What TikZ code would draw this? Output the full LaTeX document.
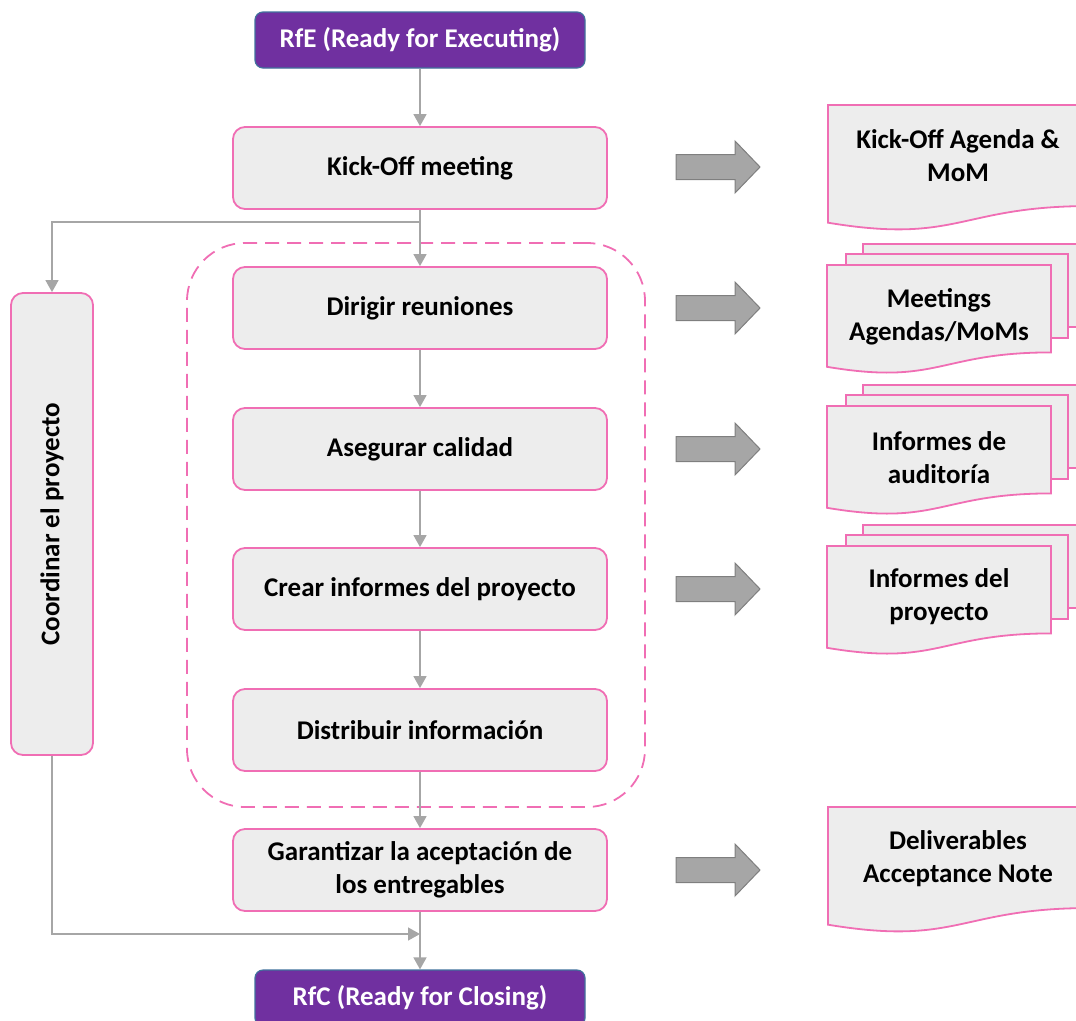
\documentclass[tikz,border=0pt]{standalone}
\usepackage{fontspec}
\setmainfont{Carlito}
\usetikzlibrary{arrows.meta}
\definecolor{pinkb}{HTML}{F06EB4}
\definecolor{boxfill}{HTML}{EDEDED}
\definecolor{purp}{HTML}{7030A0}
\definecolor{purpb}{HTML}{41719C}
\definecolor{connc}{HTML}{A6A6A6}
\definecolor{barrowf}{HTML}{A6A6A6}
\definecolor{barrowb}{HTML}{7F7F7F}
\newcommand{\bfont}{\fontsize{27}{33}\selectfont\bfseries}
% single document shape: x, y (top-left), w, h
\newcommand{\mydoc}[4]{%
  \path[docsheet] (#1,#2) -- ({#1+#3},#2) -- ({#1+#3},{#2+0.802*#4})
    .. controls ({#1+0.5*#3},{#2+0.802*#4}) and ({#1+0.5*#3},{#2+1.107*#4}) .. (#1,{#2+0.934*#4}) -- cycle;}
% multi document: x, y of front sheet top-left
\newcommand{\mymulti}[2]{%
  \path[docsheet] ({#1+36},{#2-21}) rectangle ({#1+262},{#2+62});
  \path[docsheet] ({#1+19},{#2-11}) rectangle ({#1+241},{#2+73});
  \mydoc{#1}{#2}{224}{109}}
\begin{document}
\begin{tikzpicture}[x=1pt,y=-1pt,
  proc/.style={draw=pinkb, line width=1.8pt, fill=boxfill, rounded corners=12pt,
    minimum width=374pt, minimum height=82pt, align=center, font=\bfont, inner sep=0pt},
  term/.style={draw=purpb, line width=1.2pt, fill=purp, rounded corners=8pt,
    minimum width=330pt, minimum height=56pt, text=white, font=\bfont, inner sep=0pt},
  conn/.style={draw=connc, line width=1.5pt, -{Triangle[width=13pt,length=12pt]}},
  grp/.style={draw=pinkb, line width=1.8pt, dash pattern=on 14pt off 8pt, rounded corners=58pt,
    minimum width=458pt, minimum height=564pt, inner sep=0pt},
  docsheet/.style={draw=pinkb, line width=1.8pt, fill=boxfill},
  doctext/.style={align=center, font=\bfont, inner sep=0pt},
  barrow/.pic={\draw[fill=barrowf, draw=barrowb, line width=1pt]
    (0,-12.5) -- (59,-12.5) -- (59,-26) -- (84,0) -- (59,26) -- (59,12.5) -- (0,12.5) -- cycle;}
]
\useasboundingbox (0,0) rectangle (1076,1020);
\clip (0,0) rectangle (1076,1020);

% dashed group
\node[grp] (grp) at (416,525) {};

% terminals
\node[term] (rfe) at (420,40) {RfE (Ready for Executing)};
\node[term] (rfc) at (420,998) {RfC (Ready for Closing)};

% process boxes
\node[proc] (kick) at (420,168) {Kick-Off meeting};
\node[proc] (dir)  at (420,308) {Dirigir reuniones};
\node[proc] (ase)  at (420,449) {Asegurar calidad};
\node[proc] (cre)  at (420,589) {Crear informes del proyecto};
\node[proc] (dis)  at (420,730) {Distribuir información};
\node[proc] (gar)  at (420,870) {Garantizar la aceptación de\\los entregables};

% coordinar
\node[proc, minimum width=82pt, minimum height=462pt] (coord) at (52,524) {};
\node[rotate=90, font=\bfont, inner sep=0pt] (coordt) at (coord.center) {Coordinar el proyecto};

% connectors
\coordinate (br) at (420,222);
\coordinate (jn) at (420,934);
\draw[conn] (rfe) -- (kick);
\draw[conn] (kick) -- (dir);
\draw[conn] (br) -| (coord.north);
\draw[conn] (dir) -- (ase);
\draw[conn] (ase) -- (cre);
\draw[conn] (cre) -- (dis);
\draw[conn] (dis) -- (gar);
\draw[conn] (gar) -- (rfc);
\draw[conn] (coord.south) |- (jn);

% block arrows
\pic at (676,167) {barrow};
\pic at (676,308) {barrow};
\pic at (676,449) {barrow};
\pic at (676,589) {barrow};
\pic at (676,870) {barrow};

% documents
\mydoc{828}{105}{262}{126}
\node[doctext] (d1) at (958,156) {Kick-Off Agenda \&\\MoM};
\mymulti{827}{265}
\node[doctext] (d2) at (939,317) {Meetings\\Agendas/MoMs};
\mymulti{827}{406}
\node[doctext] (d3) at (939,458) {Informes de\\auditoría};
\mymulti{827}{546}
\node[doctext] (d4) at (939,597) {Informes del\\proyecto};
\mydoc{828}{807}{262}{126}
\node[doctext] (d5) at (958,859) {Deliverables\\Acceptance Note};
\end{tikzpicture}
\end{document}
